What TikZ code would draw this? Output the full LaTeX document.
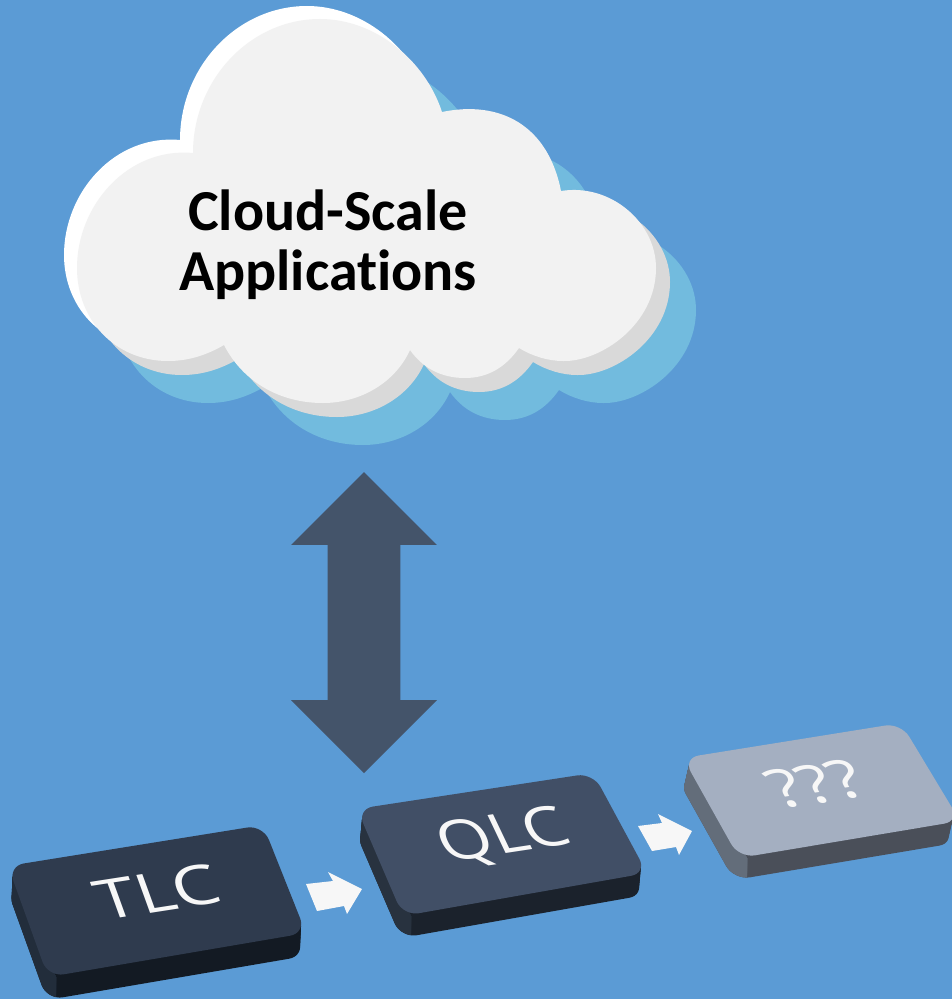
\documentclass[tikz,border=0pt]{standalone}
\usepackage{fontspec}
\usetikzlibrary{calc,shapes.arrows}
\newfontfamily\cloudfont[Ligatures=NoCommon]{Carlito}
\newfontfamily\keyfont{Open Sans}
\definecolor{sky}{HTML}{5B9BD5}
\definecolor{haze}{HTML}{72BBDE}
\definecolor{link}{HTML}{44546A}
\definecolor{flow}{HTML}{F7F7F7}
% one outline for all four layers of the cloud
\newcommand{\cloudpath}{
    (193,153) .. controls (193,80) and (250,19) .. (320,19)
    .. controls (375,19) and (425,60) .. (442,112)
    .. controls (500,100) and (548,125) .. (561,191)
    .. controls (610,183) and (656,222) .. (656,268)
    .. controls (656,325) and (600,362) .. (563,361)
    .. controls (548,361) and (532,356) .. (519,348)
    .. controls (505,368) and (487,378) .. (465,378)
    .. controls (440,378) and (422,367) .. (410,350)
    .. controls (395,383) and (360,403) .. (323,403)
    .. controls (280,403) and (243,382) .. (224,345)
    .. controls (205,356) and (187,361) .. (168,361)
    .. controls (115,361) and (77,320) .. (77,268)
    .. controls (77,205) and (128,147) .. (193,153) -- cycle
}
% top face of a key, pushed down by #2 times its depth #3
\newcommand{\keyface}[3]{
    ($(#1a)+#2*(#3)$) -- ($(#1b)+#2*(#3)$) -- ($(#1c)+#2*(#3)$) -- ($(#1d)+#2*(#3)$) -- cycle
}
\begin{document}
\begin{tikzpicture}
    [   x = 0.75pt
    ,   y = -0.75pt
    ,   layer/.style = {fill = #1, draw = none}
    ,   keylabel/.style =
        {   inner sep = 0mm
        ,   text = flow
        ,   font = \keyfont\fontsize{38}{38}\selectfont
        }
    ]
    \fill[sky] (0,0) rectangle (952,999);
    \useasboundingbox (0,0) rectangle (952,999);

    % cloud
    \fill[layer=haze, shift={(40,42)}] \cloudpath;
    \begin{scope}
        \clip (0,0) -- (527,-26) -- (98,340) -- (0,340) -- cycle;
        \fill[layer=white, shift={(-13,-13)}] \cloudpath;
    \end{scope}
    \begin{scope}
        \clip (98,340) -- (700,198) -- (700,450) -- (98,450) -- cycle;
        \fill[layer={black!15}, shift={(14,14)}] \cloudpath;
    \end{scope}
    \fill[layer={black!5}] \cloudpath;
    \node[inner sep = 0mm, align = center, font = \cloudfont\bfseries\fontsize{43.5}{45}\selectfont]
        (cloud) at (328,245) {Cloud-Scale\\Applications};

    % link between the cloud and the keys
    \node[   double arrow
         ,   fill = link
         ,   rotate = 90
         ,   inner xsep = 0mm
         ,   inner ysep = 27pt
         ,   minimum height = 225.75pt
         ,   double arrow head extend = 27.4pt
         ] (link) at (364,622.5) {};

    % keys: name/corners/depth/colours
    \foreach\k/\a/\b/\c/\d/\s/\ctop/\cleft/\cbot in
    {   TLC/{8,866}/{263,825}/{306,933}/{48,977}/{-1,23}/2F3B4E/222D3B/131A23
    ,   QLC/{357,809}/{593,773}/{647,873}/{403,916}/{-2,22}/414F66/28323F/1B222C
    ,   ???/{683,758}/{901,723}/{960,821}/{739,858}/{-5,22}/A4AFC1/636D7A/4A4F59
    }
    {   \definecolor{ktop}{HTML}{\ctop}
        \definecolor{kleft}{HTML}{\cleft}
        \definecolor{kbot}{HTML}{\cbot}
        \coordinate (\k a) at (\a);
        \coordinate (\k b) at (\b);
        \coordinate (\k c) at (\c);
        \coordinate (\k d) at (\d);
        \foreach\t in {1,0.9,...,0}
        {   \fill[kbot, rounded corners=12pt] \keyface{\k}{\t}{\s};
        }
        \begin{scope}
            \clip (\k a) -- ++(-40,0) -- ($(\k d)+(-40,60)$) -- ($(\k d)+(8,60)$) -- ($(\k d)+(8,0)$) -- cycle;
            \foreach\t in {1,0.9,...,0}
            {   \fill[kleft, rounded corners=12pt] \keyface{\k}{\t}{\s};
            }
        \end{scope}
        \fill[ktop, rounded corners=12pt] \keyface{\k}{0}{\s};
    }

    % labels on the keys
    \foreach\k/\p/\ma/\mb/\mc/\md in
    {   TLC/{157,892}/1.42/0.22/-0.38/1.05
    ,   QLC/{504,838}/1.32/0.2/-0.5/1.05
    ,   ???/{816,784}/1.38/0.2/-0.6/1.0
    }
    {   \node[keylabel, cm={\ma,\mb,\mc,\md,(0,0)}] (\k label) at (\p) {\k};
    }

    % arrows from key to key
    \fill[flow] (306,884) -- (333,881) -- (328,872) -- (362,889) -- (347,914) -- (344,906) -- (317,911) -- cycle;
    \fill[flow] (638,826) -- (662,823) -- (658,814) -- (692,831) -- (679,855) -- (676,847) -- (652,851) -- cycle;
\end{tikzpicture}
\end{document}
